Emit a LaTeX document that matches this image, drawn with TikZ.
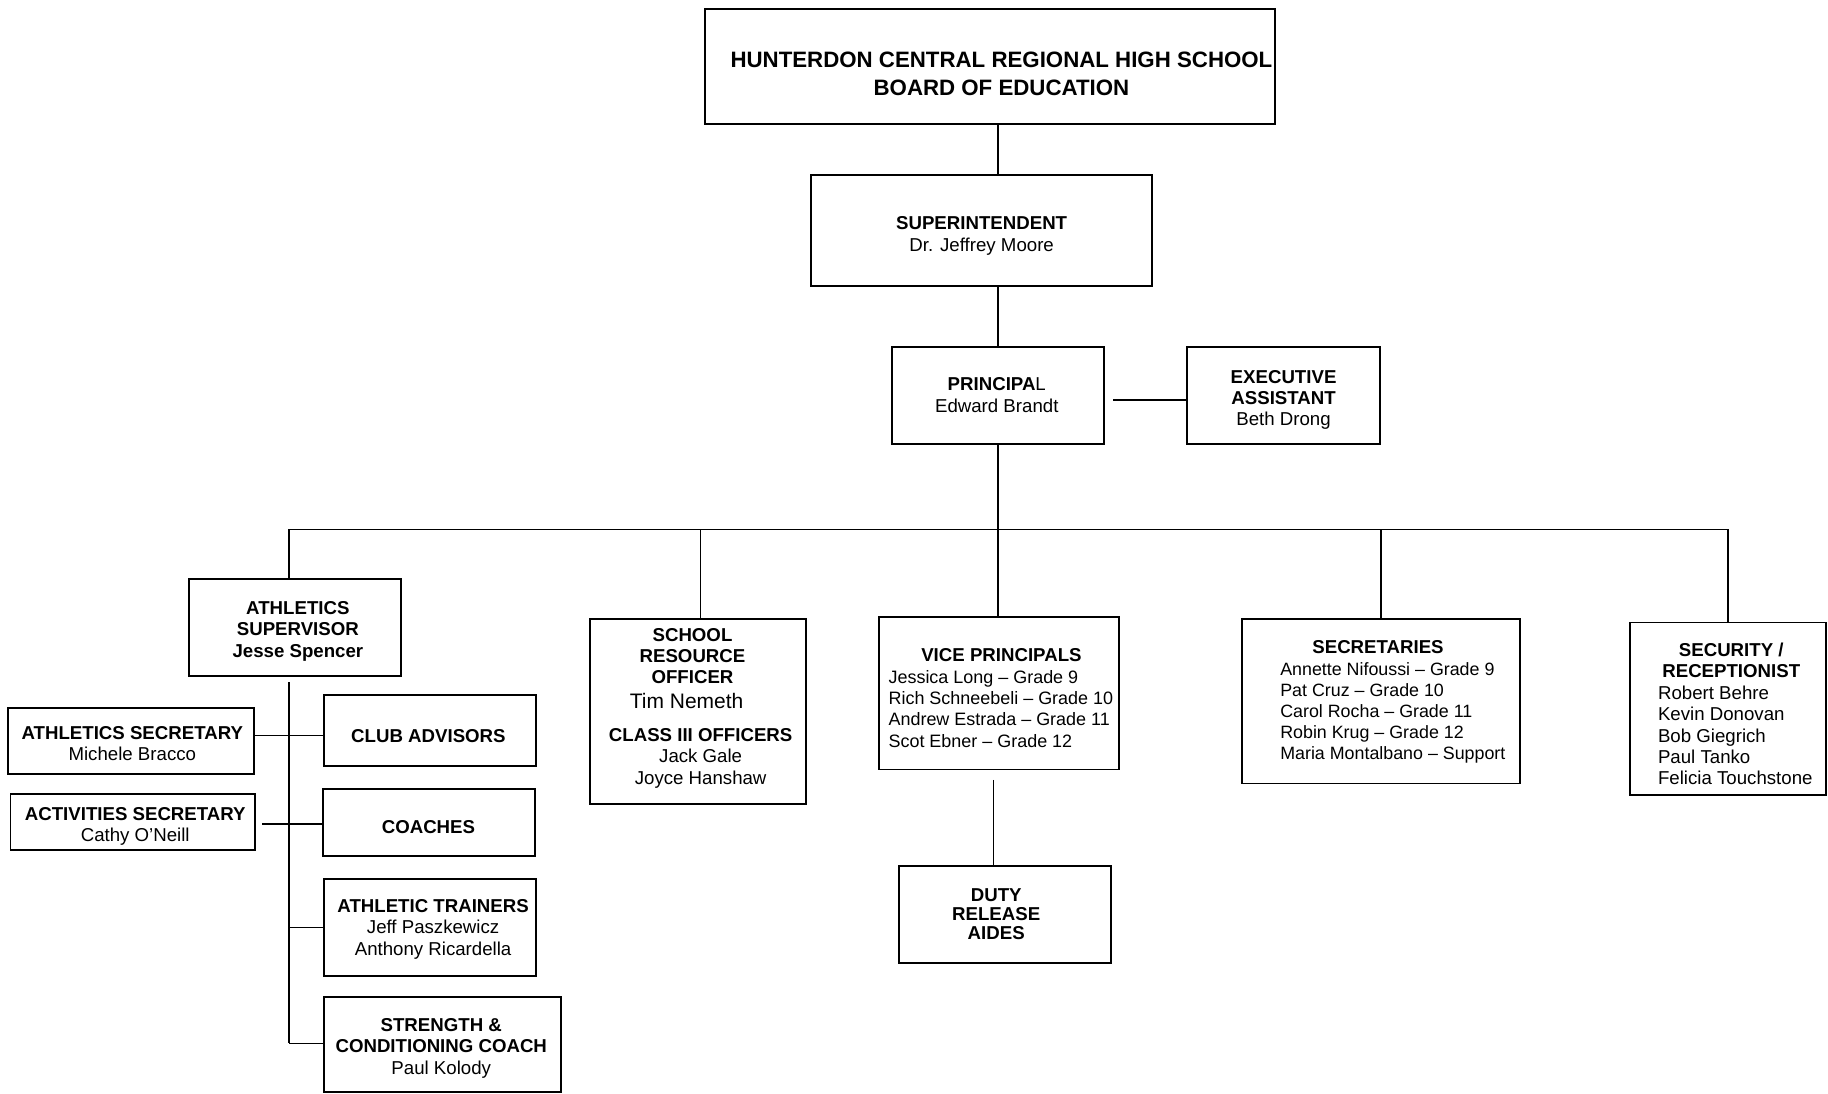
\documentclass[tikz,border=0pt]{standalone}
\usepackage{fontspec}
\setmainfont{Liberation Sans}
\usetikzlibrary{fit}
\begin{document}
\begin{tikzpicture}[x=1pt,y=-1pt]
\tikzset{
 box/.style={draw, line width=1.6pt, inner sep=0pt},
 conn/.style={line width=1.3pt},
 txt/.style={inner sep=0pt, align=center, font=\fontsize{16}{18.3}\selectfont},
 lst/.style={inner sep=0pt, align=left, anchor=west, font=\fontsize{15.6}{18.3}\selectfont},
}
\useasboundingbox (0,0) rectangle (1568,938);
% boxes
\node[box, fit={(605,8) (1094,106)}] (board) {};
\node[box, fit={(696,150) (988,245)}] (super) {};
\node[box, fit={(765,298) (947,381)}] (principal) {};
\node[box, fit={(1018,298) (1184,381)}] (exec) {};
\node[box, fit={(162,497) (344,580)}] (athsup) {};
\node[box, fit={(7,607) (218,664)}] (asec) {};
\node[box, fit={(278,596) (460,657)}] (club) {};
\node[box, fit={(9,681) (219,729)}] (actsec) {};
\node[box, fit={(277,677) (459,734)}] (coaches) {};
\node[box, fit={(278,754) (460,837)}] (trainers) {};
\node[box, fit={(278,855) (481,937)}] (strength) {};
\node[box, fit={(506,531) (691,690)}] (sro) {};
\node[box, fit={(754,529) (960,660)}] (vp) {};
\node[box, fit={(771,743) (953,826)}] (duty) {};
\node[box, fit={(1065,531) (1304,672)}] (secs) {};
\node[box, fit={(1398,534) (1566,682)}] (secu) {};
% texts
\node[txt, font=\fontsize{19.1}{24}\selectfont\bfseries] (tboard) at (859,63) {HUNTERDON CENTRAL REGIONAL HIGH SCHOOL\\BOARD OF EDUCATION};
\node[txt] (tsuper) at (842,202.5) {\textbf{SUPERINTENDENT}\\Dr. Jeffrey Moore};
\node[txt] (tprin) at (855,339) {\textbf{PRINCIPA}L\\Edward Brandt};
\node[txt] (texec) at (1101,343) {\textbf{EXECUTIVE}\\\textbf{ASSISTANT}\\Beth Drong};
\node[txt, font=\fontsize{16}{18.3}\selectfont\bfseries] (tath) at (255.5,541.5) {ATHLETICS\\SUPERVISOR\\Jesse Spencer};
\node[txt] (tasec) at (113.5,638) {\textbf{ATHLETICS SECRETARY}\\Michele Bracco};
\node[txt, font=\fontsize{16}{18.3}\selectfont\bfseries] (tclub) at (367.5,631) {CLUB ADVISORS};
\node[txt] (tact) at (116,709) {\textbf{ACTIVITIES SECRETARY}\\Cathy O’Neill};
\node[txt, font=\fontsize{16}{18.3}\selectfont\bfseries] (tcoach) at (367.5,709) {COACHES};
\node[txt] (ttrain) at (371.5,797) {\textbf{ATHLETIC TRAINERS}\\Jeff Paszkewicz\\Anthony Ricardella};
\node[txt] (tstr) at (378.5,899) {\textbf{STRENGTH \&}\\\textbf{CONDITIONING COACH}\\Paul Kolody};
\node[txt, font=\fontsize{16}{18}\selectfont\bfseries] (tsro) at (594,563) {SCHOOL\\RESOURCE\\OFFICER};
\node[txt, font=\fontsize{18}{20}\selectfont] (ttim) at (589,601) {Tim Nemeth};
\node[txt] (tclass) at (601,650.5) {\textbf{CLASS III OFFICERS}\\Jack Gale\\Joyce Hanshaw};
\node[txt, font=\fontsize{16}{18.3}\selectfont\bfseries] (tvph) at (859,562) {VICE PRINCIPALS};
\node[lst, font=\fontsize{15.4}{18.3}\selectfont] (tvpl) at (762,608) {Jessica Long – Grade 9\\Rich Schneebeli – Grade 10\\Andrew Estrada – Grade 11\\Scot Ebner – Grade 12};
\node[txt, font=\fontsize{16}{16.5}\selectfont\bfseries] (tduty) at (854.5,784) {DUTY\\RELEASE\\AIDES};
\node[txt, font=\fontsize{16}{18.3}\selectfont\bfseries] (tsech) at (1182,555) {SECRETARIES};
\node[lst, font=\fontsize{15.3}{18.1}\selectfont] (tsecl) at (1098,611.5) {Annette Nifoussi – Grade 9\\Pat Cruz – Grade 10\\Carol Rocha – Grade 11\\Robin Krug – Grade 12\\Maria Montalbano – Support};
\node[txt, font=\fontsize{16}{18.3}\selectfont\bfseries] (tsecuh) at (1485,566.5) {SECURITY /\\RECEPTIONIST};
\node[lst, font=\fontsize{16}{18.3}\selectfont] (tsecul) at (1422,631) {Robert Behre\\Kevin Donovan\\Bob Giegrich\\Paul Tanko\\Felicia Touchstone};
% connectors
\coordinate (busL) at (248,454);
\coordinate (busR) at (1482,454);
\coordinate (avtop) at (248,585);
\coordinate (avbot) at (248,895);
\coordinate (c1) at (248,631);
\coordinate (c2) at (248,707);
\coordinate (vpd) at (852,669);
\draw[conn] (principal.north |- board.south) -- (principal.north |- super.north);
\draw[conn] (principal.north |- super.south) -- (principal.north);
\draw[conn] ([xshift=7pt,yshift=-3.5pt]principal.east) -- ([yshift=-3.5pt]exec.west);
\draw[conn] (principal.south) -- (principal.south |- vp.north);
\draw[conn] (busL) -- (busR);
\draw[conn] (busL) -- (busL |- athsup.north);
\draw[conn] (busL -| 601,0) -- (sro.north -| 601,0);
\draw[conn] (busL -| secs.north) -- (secs.north);
\draw[conn] (busR) -- (busR |- secu.north);
\draw[conn] (avtop) -- (avbot);
\draw[conn] (asec.east |- c1) -- (club.west |- c1);
\draw[conn] ([xshift=5pt]actsec.east |- c2) -- (coaches.west |- c2);
\draw[conn] (avbot |- trainers.west) -- (trainers.west);
\draw[conn] (avbot) -- (strength.west |- avbot);
\draw[conn] (vpd) -- (vpd |- duty.north);
\end{tikzpicture}
\end{document}
